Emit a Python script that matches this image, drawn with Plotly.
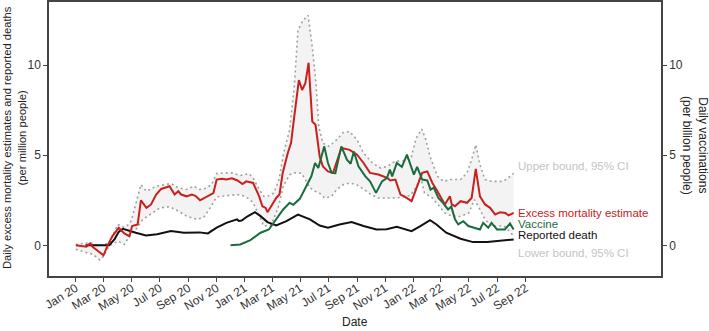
import plotly.graph_objects as go

# ---------------- data ----------------
excess_dates = ["2020-01-01","2020-01-24","2020-02-01","2020-02-07","2020-03-01","2020-03-10","2020-03-20",
    "2020-04-03","2020-04-15","2020-04-26","2020-05-02","2020-05-14","2020-05-21","2020-06-02","2020-06-12",
    "2020-06-23","2020-07-04","2020-07-22","2020-08-02","2020-08-10","2020-08-16","2020-08-28","2020-09-08",
    "2020-09-16","2020-09-26","2020-10-10","2020-10-25","2020-11-01","2020-11-13","2020-11-22","2020-12-04",
    "2020-12-16","2020-12-27","2021-01-04","2021-01-19","2021-02-01","2021-02-08","2021-02-15","2021-02-19",
    "2021-02-27","2021-03-10","2021-03-17","2021-03-24","2021-04-04","2021-04-11","2021-04-18","2021-04-28",
    "2021-05-05","2021-05-12","2021-05-19","2021-05-27","2021-06-03","2021-06-12","2021-06-19","2021-06-30",
    "2021-07-11","2021-07-22","2021-07-29","2021-08-16","2021-09-01","2021-09-15","2021-09-29","2021-10-17",
    "2021-11-05","2021-11-12","2021-11-23","2021-12-04","2021-12-14","2021-12-28","2022-01-09","2022-01-20",
    "2022-01-31","2022-02-11","2022-02-22","2022-03-03","2022-03-10","2022-03-21","2022-03-25","2022-04-01",
    "2022-04-13","2022-04-27","2022-05-07","2022-05-16","2022-05-25","2022-06-05","2022-06-16","2022-06-27",
    "2022-07-08","2022-07-19","2022-07-26","2022-08-06"]
excess_vals = [0,-0.07,0.1,-0.1,-0.55,0,0.5,
    0.97,0.66,0.51,1.07,1.16,2.5,2.08,2.27,
    2.82,3.13,3.28,2.82,3.0,2.82,2.72,2.82,
    2.75,2.5,2.69,2.9,3.65,3.7,3.65,3.72,
    3.6,3.4,3.55,3.46,2.72,2.17,2.08,1.84,
    2.17,2.63,2.82,4.02,5.12,5.67,7.14,9.17,
    8.62,8.99,10.13,6.87,6.69,4.93,4.38,4.1,
    4.02,4.85,5.4,5.3,5.03,4.57,4.02,3.93,
    3.74,3.6,3.65,2.82,2.69,2.45,3.28,4.02,
    4.1,3.46,3.0,2.63,2.27,2.72,2.27,2.17,
    2.45,2.36,2.63,4.24,2.72,2.27,2.08,1.71,
    1.84,1.8,1.66,1.8]

death_dates = ["2020-01-22","2020-03-13","2020-03-25","2020-04-03","2020-04-12","2020-04-25","2020-05-10",
    "2020-06-01","2020-06-25","2020-07-25","2020-08-22","2020-09-25","2020-10-13","2020-11-01","2020-11-22",
    "2020-12-15","2020-12-19","2020-12-25","2021-01-06","2021-01-23","2021-02-04","2021-02-19","2021-03-10",
    "2021-04-01","2021-04-26","2021-05-22","2021-06-12","2021-06-30","2021-07-25","2021-08-20","2021-09-15",
    "2021-10-13","2021-11-04","2021-11-26","2021-12-28","2022-01-16","2022-02-06","2022-02-20","2022-03-13",
    "2022-04-13","2022-05-10","2022-06-10","2022-07-07","2022-08-06"]
death_vals = [0,0,0.35,0.75,0.92,0.8,0.7,
    0.55,0.62,0.79,0.7,0.72,0.66,0.98,1.25,
    1.44,1.35,1.38,1.6,1.84,1.62,1.29,1.1,
    1.34,1.71,1.44,1.1,0.98,1.16,1.29,1.07,
    0.88,0.9,1.03,0.79,1.07,1.4,1.16,0.7,
    0.37,0.18,0.18,0.24,0.33]

vaccine_dates = ["2020-12-01","2020-12-22","2021-01-13","2021-02-04","2021-02-22","2021-03-10","2021-03-25",
    "2021-04-08","2021-04-16","2021-04-30","2021-05-14","2021-05-25","2021-06-02","2021-06-09","2021-06-22",
    "2021-06-30","2021-07-08","2021-07-16","2021-07-29","2021-08-10","2021-08-18","2021-08-25","2021-09-04",
    "2021-09-19","2021-09-29","2021-10-12","2021-10-25","2021-11-05","2021-11-11","2021-11-16","2021-11-26",
    "2021-12-07","2021-12-18","2021-12-29","2022-01-02","2022-01-09","2022-01-20","2022-01-31","2022-02-07",
    "2022-02-14","2022-02-24","2022-03-06","2022-03-17","2022-03-24","2022-04-01","2022-04-08","2022-04-19",
    "2022-04-30","2022-05-10","2022-05-25","2022-06-01","2022-06-12","2022-06-19","2022-07-01","2022-07-18",
    "2022-07-29","2022-08-06"]
vaccine_vals = [0,0.05,0.29,0.7,0.88,1.44,1.99,
    2.36,2.25,2.58,3.28,3.83,4.57,4.29,5.49,
    4.57,4.02,4.0,5.49,4.75,4.53,5.21,4.38,
    3.83,3.55,2.91,3.55,3.74,4.2,3.83,4.57,
    4.35,5.03,4.29,3.92,4.35,3.65,3.6,3.09,
    3.2,2.63,2.36,1.99,2.15,1.44,1.16,1.34,
    1.07,0.98,0.88,1.25,0.98,1.25,0.88,0.88,
    1.21,0.88]

upper_dates = ["2020-01-01","2020-02-01","2020-02-19","2020-03-13","2020-04-01","2020-04-15","2020-04-27",
    "2020-05-01","2020-05-21","2020-06-02","2020-06-23","2020-07-11","2020-07-25","2020-08-10","2020-08-28",
    "2020-09-13","2020-09-25","2020-10-07","2020-10-21","2020-11-01","2020-11-16","2020-12-04","2020-12-22",
    "2021-01-10","2021-01-19","2021-02-01","2021-02-11","2021-02-18","2021-03-05","2021-03-16","2021-03-26",
    "2021-04-08","2021-04-18","2021-04-26","2021-05-07","2021-05-18","2021-05-27","2021-06-04","2021-06-10",
    "2021-06-19","2021-07-02","2021-07-19","2021-08-02","2021-08-16","2021-09-01","2021-09-15","2021-10-04",
    "2021-10-22","2021-11-07","2021-11-22","2021-12-10","2021-12-27","2022-01-07","2022-01-19","2022-01-28",
    "2022-02-06","2022-02-22","2022-03-07","2022-03-22","2022-04-13","2022-04-27","2022-05-07","2022-05-16",
    "2022-05-25","2022-06-05","2022-06-19","2022-07-10","2022-07-21","2022-08-01","2022-08-06"]
upper_vals = [0.05,0.15,0.0,0.1,1.16,1.0,1.2,
    1.44,3.37,3.0,3.28,3.37,3.43,3.19,3.1,
    3.28,3.1,3.15,3.37,3.98,4.02,4.02,3.87,
    3.98,3.74,3.1,2.72,2.7,2.91,3.65,5.12,
    6.41,8.8,11.93,12.49,12.76,11.0,8.99,6.59,
    5.67,5.49,5.86,6.26,6.31,5.86,5.12,4.57,
    4.29,4.4,4.66,4.7,4.85,5.95,6.45,5.86,
    4.93,3.83,3.55,3.65,3.65,4.02,4.75,5.58,
    4.48,3.65,3.55,3.55,3.65,3.92,4.0]

lower_dates = ["2020-01-01","2020-02-07","2020-02-22","2020-03-01","2020-03-13","2020-04-01","2020-04-15",
    "2020-04-26","2020-05-10","2020-05-25","2020-06-10","2020-07-01","2020-07-22","2020-08-10","2020-08-28",
    "2020-09-19","2020-10-04","2020-10-18","2020-11-01","2020-11-22","2020-12-15","2020-12-28","2021-01-10",
    "2021-01-19","2021-02-04","2021-02-11","2021-02-25","2021-03-04","2021-03-15","2021-03-25","2021-04-08",
    "2021-04-18","2021-05-04","2021-05-10","2021-05-22","2021-06-02","2021-06-11","2021-06-23","2021-07-07",
    "2021-07-19","2021-08-02","2021-08-16","2021-09-01","2021-09-16","2021-10-01","2021-10-16","2021-11-01",
    "2021-11-26","2021-12-25","2022-01-09","2022-01-16","2022-01-25","2022-02-11","2022-02-25","2022-03-10",
    "2022-03-25","2022-04-13","2022-05-01","2022-05-13","2022-05-25","2022-06-05","2022-06-19","2022-07-16",
    "2022-07-28","2022-08-06"]
lower_vals = [-0.22,-0.5,-0.81,-0.6,-0.04,0.24,0.05,
    0.51,0.88,1.44,1.71,2.08,2.14,1.9,1.62,
    1.44,1.55,2.08,2.69,2.76,2.82,2.75,2.58,
    2.36,1.44,1.07,1.1,1.44,2.17,3.28,3.92,
    4.02,4.0,3.74,3.19,3.0,2.91,2.63,2.7,
    3.1,3.37,3.46,3.35,3.1,2.82,2.63,2.63,
    2.63,2.76,3.31,3.83,2.91,2.63,2.2,1.8,
    1.62,1.6,1.8,2.54,1.99,1.44,1.07,1.07,
    0.79,0.5]

tick_dates = ["2020-01-01","2020-03-01","2020-05-01","2020-07-01","2020-09-01","2020-11-01",
    "2021-01-01","2021-03-01","2021-05-01","2021-07-01","2021-09-01","2021-11-01",
    "2022-01-01","2022-03-01","2022-05-01","2022-07-01","2022-09-01"]
tick_labels = ["Jan 20","Mar 20","May 20","Jul 20","Sep 20","Nov 20",
    "Jan 21","Mar 21","May 21","Jul 21","Sep 21","Nov 21",
    "Jan 22","Mar 22","May 22","Jul 22","Sep 22"]

label_texts = ["Upper bound, 95% CI","Excess mortality estimate","Vaccine","Reported death","Lower bound, 95% CI"]
label_yvals = [4.4, 1.77, 1.16, 0.55, -0.45]

# ---------------- styles ----------------
RED = "#c8201e"
GREEN = "#1c6b3e"
BLACK = "#111111"
GRAY = "#a0a0a0"
LABEL_GRAY = "#c4c4c4"
FONT = "Liberation Sans, Arial, sans-serif"

fig = go.Figure()

# CI band
fig.add_trace(go.Scatter(x=upper_dates + lower_dates[::-1], y=upper_vals + lower_vals[::-1],
                         fill="toself", fillcolor="#f3f3f3", line=dict(width=0),
                         mode="lines", hoverinfo="skip", showlegend=False))
fig.add_trace(go.Scatter(x=upper_dates, y=upper_vals, mode="lines",
                         line=dict(color=GRAY, width=1.6, dash="2px,3px"), showlegend=False))
fig.add_trace(go.Scatter(x=lower_dates, y=lower_vals, mode="lines",
                         line=dict(color=GRAY, width=1.6, dash="2px,3px"), showlegend=False))
fig.add_trace(go.Scatter(x=death_dates, y=death_vals, mode="lines",
                         line=dict(color=BLACK, width=2), showlegend=False))
fig.add_trace(go.Scatter(x=vaccine_dates, y=vaccine_vals, mode="lines", yaxis="y2",
                         line=dict(color=GREEN, width=2), showlegend=False))
fig.add_trace(go.Scatter(x=excess_dates, y=excess_vals, mode="lines",
                         line=dict(color=RED, width=2), showlegend=False))

label_colors = [LABEL_GRAY, RED, GREEN, BLACK, LABEL_GRAY]
for t, yv, c in zip(label_texts, label_yvals, label_colors):
    fig.add_annotation(x="2022-08-11", y=yv, xref="x", yref="y", text=t, showarrow=False,
                       xanchor="left", yanchor="middle", font=dict(size=11.5, color=c, family=FONT))

PLOT_L, PLOT_R, PLOT_T, PLOT_B = 49, 661, 2, 276
PW, PH = PLOT_R - PLOT_L, PLOT_B - PLOT_T

fig.add_annotation(x=(14 - PLOT_L) / PW, y=(PLOT_B - 138) / PH, xref="paper", yref="paper",
                   showarrow=False, textangle=-90,
                   text="Daily excess mortality estimates and reported deaths<br>(per million people)",
                   font=dict(size=11.2, color="#222", family=FONT), xanchor="center", yanchor="middle")
fig.add_annotation(x=(695 - PLOT_L) / PW, y=(PLOT_B - 145) / PH, xref="paper", yref="paper",
                   showarrow=False, textangle=90,
                   text="Daily vaccinations<br>(per billion people)",
                   font=dict(size=12, color="#222", family=FONT), xanchor="center", yanchor="middle")
fig.add_annotation(x=0.5, y=(PLOT_B - 322) / PH, xref="paper", yref="paper", showarrow=False,
                   text="Date", font=dict(size=12, color="#222", family=FONT),
                   xanchor="center", yanchor="middle")

YR = [-1.7, 13.5]
fig.update_layout(
    width=709, height=331,
    margin=dict(l=PLOT_L, r=709 - PLOT_R, t=PLOT_T, b=331 - PLOT_B, autoexpand=False),
    paper_bgcolor="white", plot_bgcolor="white",
    font=dict(family=FONT, size=12, color="#333"),
    xaxis=dict(type="date", range=["2019-11-04", "2023-06-21"], tickmode="array",
               tickvals=tick_dates, ticktext=tick_labels, tickangle=-32, automargin=False,
               ticklabelstandoff=-5,
               ticks="outside", ticklen=4, tickcolor="#444", showgrid=False, zeroline=False,
               showline=True, linecolor="#444", linewidth=1.5, mirror=True,
               tickfont=dict(size=12, color="#333")),
    yaxis=dict(range=YR, tickvals=[0, 5, 10], ticks="outside", ticklen=4, tickcolor="#444",
               automargin=False,
               showgrid=False, zeroline=False, showline=True, linecolor="#444", linewidth=1.5,
               mirror=True, tickfont=dict(size=12, color="#333")),
    yaxis2=dict(range=YR, tickvals=[0, 5, 10], overlaying="y", side="right", ticks="outside",
                automargin=False,
                ticklen=4, tickcolor="#444", showgrid=False, zeroline=False, showline=True,
                linecolor="#444", linewidth=1.5, tickfont=dict(size=12, color="#333")),
)

fig.write_html("out.html", config={"displayModeBar": False},
               post_script="document.body.style.margin='0';document.body.style.padding='0';"
                           "document.body.style.overflow='hidden';")
